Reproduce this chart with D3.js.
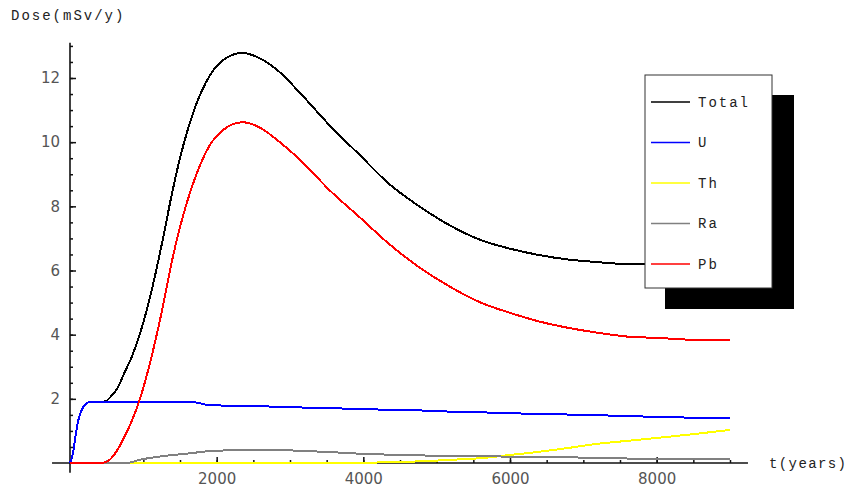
<!DOCTYPE html>
<html>
<head>
<meta charset="utf-8">
<script src="https://cdn.jsdelivr.net/npm/d3@7"></script>
<style>
  body { margin: 0; background: #fff; }
  .mono { font-family: "Liberation Mono", "DejaVu Sans Mono", monospace; font-size: 14px; letter-spacing: 2px; fill: #222; }
  .tick text { font-family: "DejaVu Sans", sans-serif; font-size: 15px; fill: #555; }
  .tick line { stroke: #111; stroke-width: 1.5; }
</style>
</head>
<body>
<svg id="chart" width="852" height="492"></svg>
<script>
"use strict";

// time samples (years) shared by all series
var years = [0, 40, 80, 110, 150, 220, 280, 400, 480, 550, 650, 750, 850, 950, 1100, 1250, 1400, 1500, 1700, 1900,
  2100, 2350, 2600, 2850, 3150, 3550, 3950, 4350, 4750, 5200, 5600, 6000, 6400, 6800, 7200, 7600, 8000, 8500, 9000];

var totalDose = [0, 0.3, 0.9, 1.3, 1.6, 1.85, 1.9, 1.9, 1.92, 2.05, 2.35, 2.85, 3.35, 4.0, 5.25, 6.8, 8.5, 9.5, 11.05, 12.05,
  12.58, 12.78, 12.6, 12.2, 11.5, 10.5, 9.6, 8.7, 8.02, 7.38, 6.95, 6.68, 6.48, 6.34, 6.26, 6.2, 6.2, 6.25, 6.35];
var uDose = [0, 0.3, 0.9, 1.3, 1.6, 1.85, 1.9, 1.9, 1.9, 1.9, 1.9, 1.9, 1.9, 1.9, 1.9, 1.9, 1.9, 1.9, 1.89, 1.8,
  1.79, 1.78, 1.77, 1.75, 1.73, 1.71, 1.68, 1.66, 1.64, 1.6, 1.58, 1.55, 1.53, 1.51, 1.49, 1.46, 1.44, 1.41, 1.39];
var thDose = [0, 0, 0, 0, 0, 0, 0, 0, 0, 0, 0, 0, 0, 0, 0, 0, 0, 0, 0, 0,
  0, 0, 0, 0, 0, 0, 0, 0.03, 0.05, 0.1, 0.15, 0.25, 0.35, 0.47, 0.6, 0.69, 0.78, 0.9, 1.03];
var raDose = [0, 0, 0, 0, 0, 0, 0, 0, 0, 0, 0, 0, 0.03, 0.1, 0.16, 0.21, 0.25, 0.27, 0.32, 0.37,
  0.39, 0.4, 0.4, 0.4, 0.38, 0.34, 0.29, 0.26, 0.24, 0.21, 0.21, 0.2, 0.2, 0.18, 0.15, 0.14, 0.14, 0.14, 0.13];
var pbDose = [0, 0, 0, 0, 0, 0, 0, 0, 0.02, 0.12, 0.42, 0.85, 1.35, 1.97, 3.2, 4.7, 6.4, 7.35, 8.85, 9.88,
  10.4, 10.62, 10.44, 10.02, 9.42, 8.48, 7.66, 6.83, 6.12, 5.47, 5.0, 4.68, 4.41, 4.21, 4.06, 3.94, 3.9, 3.84, 3.83];

var seriesNames = ["Total", "U", "Th", "Ra", "Pb"];
var seriesColors = ["#000000", "#0000ff", "#ffff00", "#808080", "#ff0000"];
var seriesValues = [totalDose, uDose, thDose, raDose, pbDose];

var xMajor = [2000, 4000, 6000, 8000];
var xMinor = d3.range(500, 9001, 500);
var yMajor = [2, 4, 6, 8, 10, 12];
var yMinor = d3.range(0.5, 13.01, 0.5);

var svg = d3.select("#chart");

var x = d3.scaleLinear().domain([0, 9000]).range([70, 730]);
var y = d3.scaleLinear().domain([0, 12]).range([463, 78]);

// axis lines (Mathematica style: cross at origin, ticks inside)
svg.append("line").attr("x1", x(-245)).attr("x2", x(9245)).attr("y1", y(0)).attr("y2", y(0))
  .attr("stroke", "#111").attr("stroke-width", 1.6);
svg.append("line").attr("x1", x(0)).attr("x2", x(0)).attr("y1", y(-0.3)).attr("y2", y(13.1))
  .attr("stroke", "#111").attr("stroke-width", 1.6);

var xAxisMinor = d3.axisBottom(x).tickValues(xMinor).tickSizeInner(-3).tickSizeOuter(0).tickFormat("");
var xAxisMajor = d3.axisBottom(x).tickValues(xMajor).tickSizeInner(-6).tickSizeOuter(0).tickPadding(10).tickFormat(d3.format("d"));
var yAxisMinor = d3.axisLeft(y).tickValues(yMinor).tickSizeInner(-3).tickSizeOuter(0).tickFormat("");
var yAxisMajor = d3.axisLeft(y).tickValues(yMajor).tickSizeInner(-6).tickSizeOuter(0).tickPadding(10).tickFormat(d3.format("d"));

[xAxisMinor, xAxisMajor].forEach(function (ax) {
  svg.append("g").attr("transform", "translate(0," + y(0) + ")").call(ax).call(function (g) { g.select(".domain").remove(); });
});
[yAxisMinor, yAxisMajor].forEach(function (ax) {
  svg.append("g").attr("transform", "translate(" + x(0) + ",0)").call(ax).call(function (g) { g.select(".domain").remove(); });
});

// curves, drawn in legend order so Pb ends on top
var line = d3.line().curve(d3.curveMonotoneX)
  .x(function (d) { return x(d[0]); })
  .y(function (d) { return y(d[1]); });

seriesValues.forEach(function (vals, i) {
  svg.append("path")
    .datum(years.map(function (t, j) { return [t, vals[j]]; }))
    .attr("fill", "none")
    .attr("stroke", seriesColors[i])
    .attr("stroke-width", 2)
    .attr("shape-rendering", "crispEdges")
    .attr("d", line);
});

// axis titles
svg.append("text").attr("class", "mono").attr("x", 11).attr("y", 20).text("Dose(mSv/y)");
svg.append("text").attr("class", "mono").attr("x", 769).attr("y", y(0)).attr("dy", "0.35em")
  .style("letter-spacing", "1.4px").text("t(years)");

// legend with drop shadow
var legend = svg.append("g").attr("transform", "translate(645,75)");
legend.append("rect").attr("x", 20).attr("y", 20).attr("width", 129).attr("height", 214).attr("fill", "#000");
legend.append("rect").attr("x", 0).attr("y", 0).attr("width", 127).attr("height", 213)
  .attr("fill", "#fff").attr("stroke", "#333").attr("stroke-width", 1);

seriesNames.forEach(function (name, i) {
  var ry = 27 + i * 40.5;
  legend.append("line").attr("x1", 6).attr("x2", 45).attr("y1", ry).attr("y2", ry)
    .attr("stroke", seriesColors[i]).attr("stroke-width", 1.5);
  legend.append("text").attr("class", "mono").attr("x", 53).attr("y", ry).attr("dy", "0.35em").text(name);
});
</script>
</body>
</html>
